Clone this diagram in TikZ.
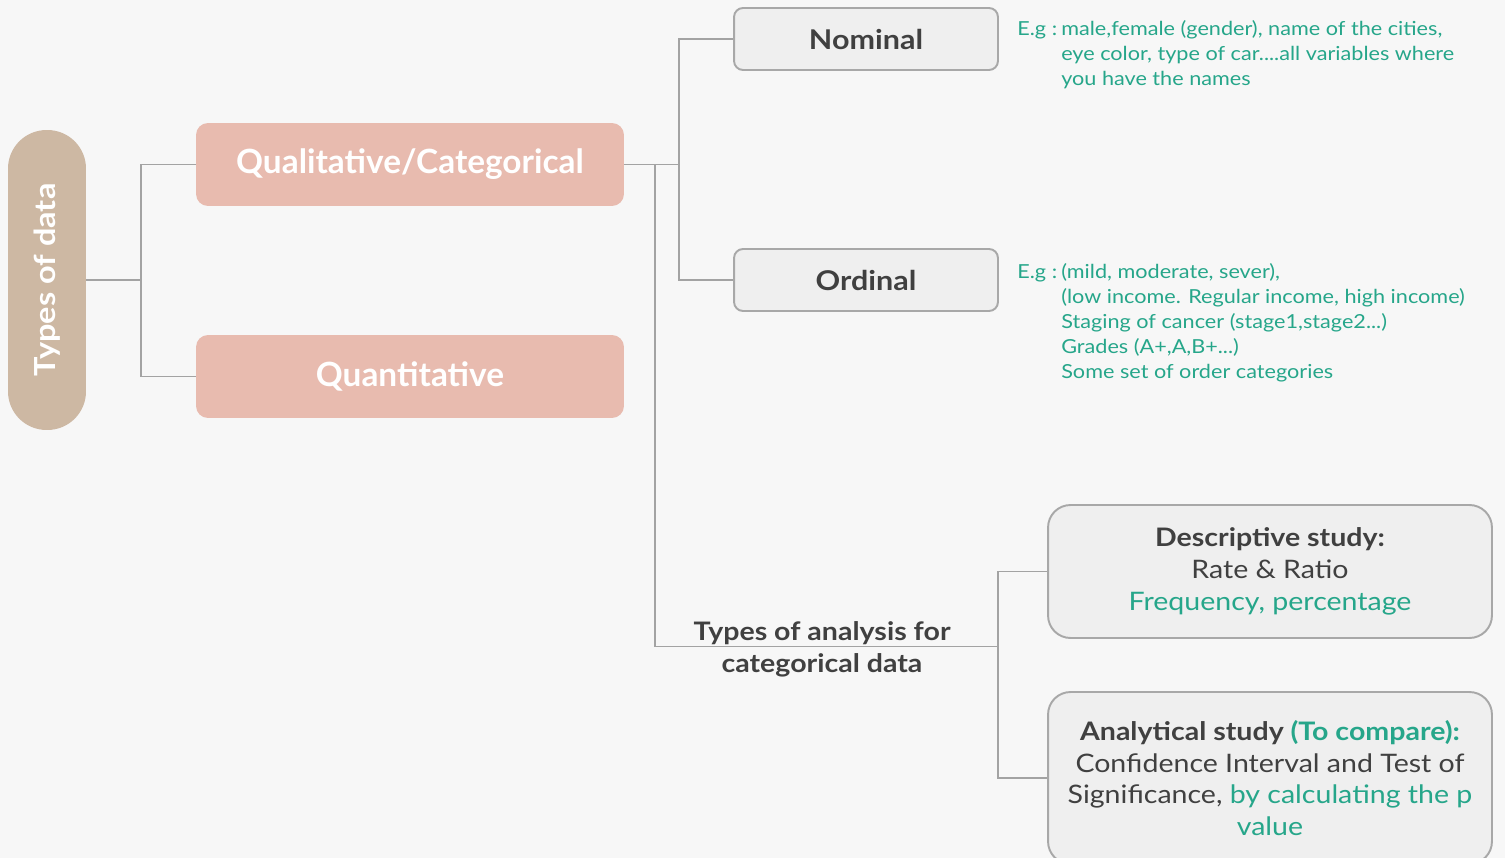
\documentclass[tikz,border=0pt]{standalone}
\usepackage{fontspec}
\setmainfont{Lato}[FakeStretch=1.12]
\newfontfamily\plainlato{Lato}
\usetikzlibrary{positioning}
\definecolor{bgcol}{HTML}{F7F7F7}
\definecolor{pillcol}{HTML}{CDB8A3}
\definecolor{pinkcol}{HTML}{E8BBAF}
\definecolor{boxcol}{HTML}{EFEFEF}
\definecolor{edgecol}{HTML}{A8A8A8}
\definecolor{linecol}{HTML}{A3A3A3}
\definecolor{darkcol}{HTML}{404040}
\definecolor{greencol}{HTML}{26A68A}
\tikzset{
  pill/.style={draw=none, rectangle, rounded corners=0.77cm, fill=pillcol, minimum width=1.56cm, minimum height=6cm},
  pinkblk/.style={rectangle, rounded corners=0.24cm, fill=pinkcol, minimum width=8.56cm, minimum height=1.66cm, font=\plainlato\fontsize{19}{22}\selectfont\bfseries, text=white},
  greyblk/.style={draw=edgecol, line width=1.1pt, fill=boxcol, rectangle, rounded corners=0.18cm, minimum width=5.28cm, minimum height=1.24cm, font=\fontsize{15.5}{18}\selectfont\bfseries, text=darkcol},
  bigblk/.style={greyblk, rounded corners=0.45cm, minimum width=8.88cm, align=center, font=\fontsize{14.5}{18.1}\selectfont},
  note/.style={anchor=base west, text=greencol, font=\fontsize{11}{14.2}\selectfont, inner sep=0pt},
  anlbl/.style={align=center, font=\fontsize{14.5}{18.1}\selectfont\bfseries, text=darkcol},
  conn/.style={draw=linecol, line width=1.1pt},
}

\begin{document}
\begin{tikzpicture}[x=0.02cm, y=-0.02cm]

% Canvas
\fill[bgcol] (0,0) rectangle (1505,858);
\useasboundingbox (0,0) rectangle (1505,858);
\clip (0,0) rectangle (1505,858);

% Root
\node[pill] (types) at (47,280) {};
\node[rotate=90, text=white, font=\fontsize{16.5}{20}\selectfont\bfseries] (typeslbl) at (types) {Types of data};

% Main groups
\node[pinkblk] (qual) at (410,164.5) {Qualitative/Categorical};
\node[pinkblk] (quant) at (410,376.5) {Quantitative};

% Categorical kinds
\node[greyblk] (nominal) at (866,39) {Nominal};
\node[greyblk] (ordinal) at (866,280) {Ordinal};

\node[note] (nomnote) at (1017,36) {\begin{tabular}[t]{@{}p{25pt}@{}l@{}}
E.g : & male,female (gender), name of the cities,\\
 & eye color, type of car....all variables where\\
 & you have the names
\end{tabular}};

\node[note] (ordnote) at (1017,279) {\begin{tabular}[t]{@{}p{25pt}@{}l@{}}
E.g : & (mild, moderate, sever),\\
 & (low income. Regular income, high income)\\
 & Staging of cancer (stage1,stage2...)\\
 & Grades (A+,A,B+...)\\
 & Some set of order categories
\end{tabular}};

% Analysis
\node[anlbl] (analysis) at (822,649) {Types of analysis for\\categorical data};
\node[bigblk, minimum height=2.66cm] (desc) at (1270,571.5) {\textbf{Descriptive study:}\\
  Rate \& Ratio\\
  \textcolor{greencol}{Frequency, percentage}};
\node[bigblk, minimum height=3.44cm] (anal) at (1270,778) {\textbf{Analytical study \textcolor{greencol}{(To compare):}}\\
  Confidence Interval and Test of\\
  Significance, \textcolor{greencol}{by calculating the p}\\
  \textcolor{greencol}{value}};

% Connectors
\draw[conn] (types.east) -- ++(55,0) |- (qual.west);
\draw[conn] (types.east) -- ++(55,0) |- (quant.west);
\draw[conn] (qual.east) -- ++(55,0) |- (nominal.west);
\draw[conn] (qual.east) -- ++(55,0) |- (ordinal.west);
\draw[conn] (qual.east) ++(31,0) -- ++(0,482) -- ++(343,0) coordinate (split);
\draw[conn] (split) |- (desc.west);
\draw[conn] (split) |- (anal.west);

\end{tikzpicture}
\end{document}
